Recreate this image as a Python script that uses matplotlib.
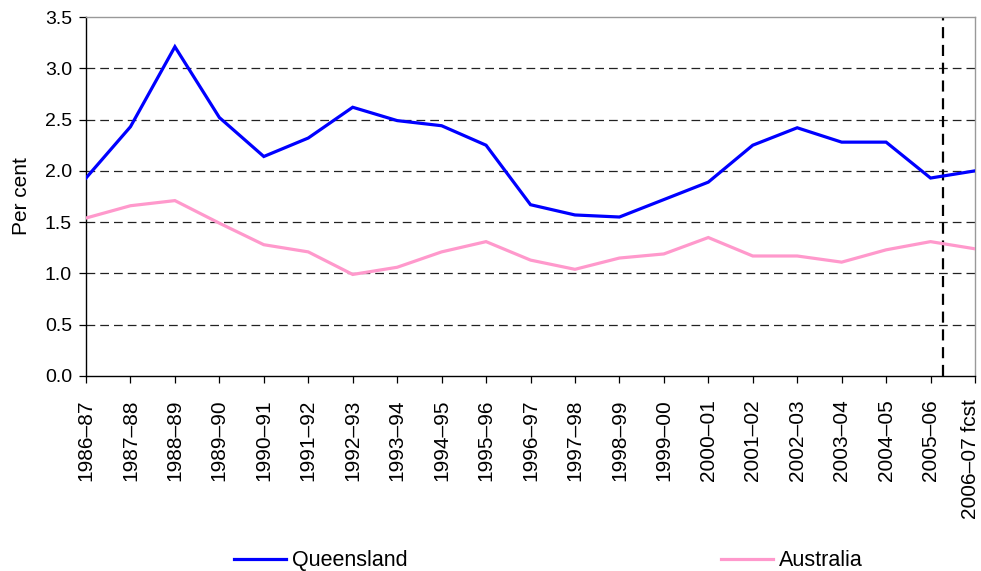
import matplotlib
matplotlib.use("Agg")
import matplotlib.pyplot as plt
from matplotlib.transforms import ScaledTranslation

plt.rcParams['font.family'] = ['Liberation Sans', 'DejaVu Sans']

# ================== data ==================
years = ["1986–87", "1987–88", "1988–89", "1989–90", "1990–91", "1991–92",
         "1992–93", "1993–94", "1994–95", "1995–96", "1996–97", "1997–98",
         "1998–99", "1999–00", "2000–01", "2001–02", "2002–03", "2003–04",
         "2004–05", "2005–06", "2006–07 fcst"]
queensland = [1.93, 2.43, 3.21, 2.52, 2.14, 2.32, 2.62, 2.49, 2.44, 2.25, 1.67,
              1.57, 1.55, 1.72, 1.89, 2.25, 2.42, 2.28, 2.28, 1.93, 2.00]
australia = [1.54, 1.66, 1.71, 1.49, 1.28, 1.21, 0.99, 1.06, 1.21, 1.31, 1.13,
             1.04, 1.15, 1.19, 1.35, 1.17, 1.17, 1.11, 1.23, 1.31, 1.24]
y_ticks = [0.0, 0.5, 1.0, 1.5, 2.0, 2.5, 3.0, 3.5]
fcst_divider = 19.28  # forecast separator sits between the last two years

fig = plt.figure(figsize=(9.81, 5.71), dpi=100, facecolor='white')
ax = fig.add_axes([86 / 981, 1 - 376 / 571, (975 - 86) / 981, (376 - 17) / 571])

x = range(len(years))
ax.plot(x, queensland, color='#0000ff', linewidth=2.3, label='Queensland',
        solid_joinstyle='miter', zorder=3)
ax.plot(x, australia, color='#ff99cc', linewidth=2.3, label='Australia',
        solid_joinstyle='miter', zorder=3)

# horizontal grid (dashed), not at top
for yv in y_ticks[1:-1]:
    ax.axhline(yv, color='#222222', linewidth=0.9, dashes=(7, 4), zorder=1)
ax.axvline(fcst_divider, color='black', linewidth=1.6, dashes=(5, 3), zorder=2)

ax.set_xlim(0, len(years) - 1)
ax.set_ylim(0, 3.5)
ax.set_yticks(y_ticks)
ax.set_yticklabels([f"{v:.1f}" for v in y_ticks])
ax.set_xticks(list(x))
ax.set_xticklabels(years, rotation=90, va='top', ha='center')
ax.tick_params(axis='both', length=5, width=0.9, direction='out', color='black')
ax.tick_params(axis='y', labelsize=14, pad=5)
ax.tick_params(axis='x', labelsize=15, pad=12)
ax.set_ylabel('Per cent', fontsize=15, labelpad=10)

# last label sits on the right edge, nudge it in a little so it isn't clipped
last = ax.xaxis.get_major_ticks()[-1].label1
last.set_transform(last.get_transform() + ScaledTranslation(-3 / 72, 0, fig.dpi_scale_trans))

ax.spines['left'].set_color('black')
ax.spines['bottom'].set_color('black')
ax.spines['top'].set_color('#999999')
ax.spines['right'].set_color('#999999')
for s in ax.spines.values():
    s.set_linewidth(1.0)

fig.legend(loc='center', bbox_to_anchor=(0.559, 0.018), ncol=2, frameon=False,
           fontsize=15.5, handlelength=2.4, handletextpad=0.25, columnspacing=14.6)

fig.savefig('out.png', dpi=100, facecolor='white')
